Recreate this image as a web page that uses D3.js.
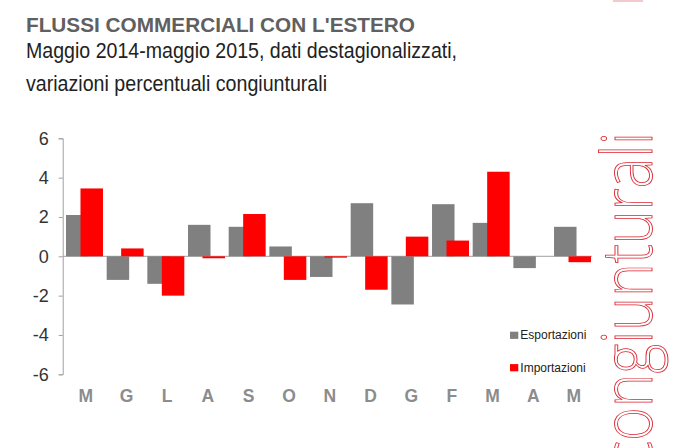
<!DOCTYPE html>
<html><head><meta charset="utf-8">
<script src="https://cdn.jsdelivr.net/npm/d3@7"></script>
<style>
html,body{margin:0;padding:0;background:#fff;}
svg{display:block;}
</style></head>
<body>
<svg id="chart" width="696" height="448"></svg>
<script>
const categories = ["M","G","L","A","S","O","N","D","G","F","M","A","M"];
const esportazioni = [2.1,-1.2,-1.4,1.6,1.5,0.5,-1.05,2.7,-2.45,2.65,1.7,-0.6,1.5];
const importazioni = [3.45,0.4,-2.0,-0.1,2.15,-1.2,-0.07,-1.7,1.0,0.8,4.3,0.0,-0.3];
const yTicks = [-6,-4,-2,0,2,4,6];
const seriesNames = ["Esportazioni","Importazioni"];
const colors = ["#808080","#ff0000"];

const svg = d3.select("#chart");
const NARROW = "'Liberation Sans Narrow','Arial Narrow','Liberation Sans',Arial,sans-serif";

// top pink mark
svg.append("rect").attr("x",613).attr("y",0).attr("width",30).attr("height",2).attr("fill","#f3c9cd");

// titles
svg.append("text").attr("x",26).attr("y",32.3).attr("font-family",NARROW).attr("font-weight","bold")
  .attr("font-size",21).attr("fill","#606060").attr("textLength",389).attr("lengthAdjust","spacingAndGlyphs")
  .text("FLUSSI COMMERCIALI CON L'ESTERO");
svg.append("text").attr("x",26).attr("y",58.3).attr("font-family",NARROW)
  .attr("font-size",22).attr("fill","#222").attr("textLength",431).attr("lengthAdjust","spacingAndGlyphs")
  .text("Maggio 2014-maggio 2015, dati destagionalizzati,");
svg.append("text").attr("x",26).attr("y",91).attr("font-family",NARROW)
  .attr("font-size",22).attr("fill","#222").attr("textLength",301).attr("lengthAdjust","spacingAndGlyphs")
  .text("variazioni percentuali congiunturali");

// rotated decorative word
svg.append("text").attr("transform","translate(652,468) rotate(-90)")
  .attr("font-family","'Open Sans',Lato,sans-serif").attr("font-weight",300).attr("font-size",70)
  .attr("fill","#fff").attr("stroke","#d9242f").attr("stroke-width",0.9)
  .attr("textLength",336).attr("lengthAdjust","spacingAndGlyphs")
  .text("congiunturali");

// scales
const y = d3.scaleLinear().domain([-6,6]).range([374.3,138.3]);
const x = d3.scaleBand().domain(d3.range(categories.length)).range([64.5,593.2]).padding(0);
const bw = x.bandwidth();
const barW = bw*0.553;
const offs = [bw*0.037, bw*0.393];

// y axis
const yAxis = d3.axisLeft(y).tickValues(yTicks).tickSize(4).tickPadding(10).tickFormat(d => String(d));
const gy = svg.append("g").attr("transform","translate(62.7,0)").call(yAxis);
gy.select(".domain").attr("stroke","#a0a0a0");
gy.selectAll(".tick line").attr("stroke","#a0a0a0");
gy.selectAll(".tick text").attr("font-family",NARROW).attr("font-size",18).attr("fill","#333");

// zero line
svg.append("line").attr("x1",62.7).attr("x2",592).attr("y1",y(0)).attr("y2",y(0)).attr("stroke","#a0a0a0");

// bars
[esportazioni, importazioni].forEach((vals, s) => {
  svg.append("g").selectAll("rect").data(vals).join("rect")
    .attr("x",(d,i)=>x(i)+offs[s])
    .attr("width",barW)
    .attr("y",d=>y(Math.max(0,d)))
    .attr("height",d=>Math.abs(y(d)-y(0)))
    .attr("fill",colors[s]);
});

// x labels
const xAxis = d3.axisBottom(x).tickSize(0).tickPadding(0).tickFormat(i=>categories[i]);
const gx = svg.append("g").attr("transform","translate(1,389.5)").call(xAxis);
gx.select(".domain").remove();
gx.selectAll(".tick text").attr("font-family",NARROW).attr("font-size",17.5).attr("font-weight","bold")
  .attr("fill","#8c8c8c").attr("dy","0.72em");

// legend
const lg = svg.append("g");
seriesNames.forEach((n,i)=>{
  const yy = 339.3 + i*32.4;
  lg.append("rect").attr("x",510).attr("y",yy-7.6).attr("width",8.3).attr("height",7.2).attr("fill",colors[i]);
  lg.append("text").attr("x",520.3).attr("y",yy).attr("font-family",NARROW).attr("font-size",12)
    .attr("fill","#222").text(n);
});
</script>
</body></html>
